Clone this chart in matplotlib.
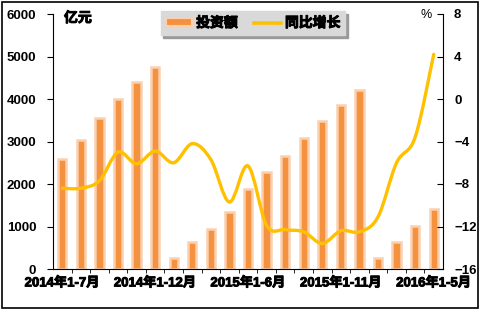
import matplotlib
matplotlib.use('Agg')
import matplotlib.pyplot as plt
import matplotlib.patheffects as pe
import numpy as np
from matplotlib.path import Path
from matplotlib.patches import PathPatch, Rectangle
from matplotlib.lines import Line2D

plt.rcParams['font.family'] = ['Liberation Sans', 'Noto Sans CJK SC']
plt.rcParams['font.weight'] = 'bold'

months = ['2014年1-7月', '2014年1-8月', '2014年1-9月', '2014年1-10月', '2014年1-11月',
          '2014年1-12月', '2015年1-2月', '2015年1-3月', '2015年1-4月', '2015年1-5月',
          '2015年1-6月', '2015年1-7月', '2015年1-8月', '2015年1-9月', '2015年1-10月',
          '2015年1-11月', '2015年1-12月', '2016年1-2月', '2016年1-3月', '2016年1-4月',
          '2016年1-5月']
investment = [2580, 3030, 3560, 4000, 4410, 4760, 260, 630, 950, 1340, 1880,
              2280, 2660, 3080, 3480, 3860, 4220, 260, 640, 1010, 1410]
growth = [-8.4, -8.4, -7.7, -5.0, -6.1, -4.9, -6.0, -4.2, -5.7, -9.7, -6.3,
          -11.9, -12.3, -12.5, -13.6, -12.4, -12.5, -11.1, -6.0, -3.6, 4.2]

bar_face = '#F59240'
bar_edge = '#FAD0AE'
line_col = '#FFC000'
bold_cjk = [pe.withStroke(linewidth=0.7, foreground='black')]

fig = plt.figure(figsize=(4.84, 3.12), dpi=100)
ax = fig.add_axes([53 / 484, 1 - 269 / 312, 390 / 484, 255 / 312])
ax2 = ax.twinx()

x = np.arange(len(months))
ax.bar(x, investment, width=0.44, color=bar_face, edgecolor=bar_edge, linewidth=1.8, zorder=2)
ax.set_xlim(-0.5, len(months) - 0.5)
ax.set_ylim(0, 6000)
ax.set_yticks(range(0, 6001, 1000))
ax.set_xticks(x[::5])
ax.set_xticklabels([months[i] for i in x[::5]], fontsize=9.5)
for t in ax.get_xticklabels():
    t.set_path_effects(bold_cjk)
ax.set_xticks(x[:-1] + 0.5, minor=True)
ax.tick_params(axis='x', which='major', length=0, pad=6)
ax.tick_params(axis='x', which='minor', length=3, direction='out')
ax.tick_params(axis='y', labelsize=9.5, length=4, direction='out', pad=8)

# smoothed line (catmull-rom style bezier through data points)
pts = np.column_stack([x, growth]).astype(float)
verts = [pts[0]]
codes = [Path.MOVETO]
n = len(pts)
for i in range(n - 1):
    p0 = pts[max(i - 1, 0)]
    p1 = pts[i]
    p2 = pts[i + 1]
    p3 = pts[min(i + 2, n - 1)]
    c1 = p1 + (p2 - p0) / 6
    c2 = p2 - (p3 - p1) / 6
    verts += [c1, c2, p2]
    codes += [Path.CURVE4] * 3
ax2.add_patch(PathPatch(Path(verts, codes), facecolor='none', edgecolor=line_col,
                        linewidth=2.4, zorder=3, capstyle='round'))
ax2.set_ylim(-16, 8)
ax2.set_yticks(range(-16, 9, 4))
ax2.tick_params(axis='y', labelsize=9.5, length=4, direction='in', pad=8)

for a in (ax, ax2):
    a.spines['top'].set_visible(False)
    a.patch.set_visible(False)
ax.spines['right'].set_visible(False)
ax2.spines['left'].set_visible(False)
ax2.spines['bottom'].set_visible(False)

fig.text(64 / 484, 1 - 18 / 312, '亿元', fontsize=10, va='center', ha='left',
         path_effects=bold_cjk)
fig.text(432 / 484, 1 - 15 / 312, '%', fontsize=9, va='center', ha='right', fontweight='normal')

handles = [Rectangle((0, 0), 1, 1, facecolor=bar_face, edgecolor=bar_edge, linewidth=1.5),
           Line2D([], [], color=line_col, linewidth=2.6)]
leg = fig.legend(handles, ['投资额', '同比增长'], loc='center', ncol=2,
                 bbox_to_anchor=(253 / 484, 1 - 23 / 312), fontsize=10,
                 frameon=True, fancybox=False, facecolor='#D9D9D9', edgecolor='#D9D9D9',
                 shadow={'color': '#9A9A9A', 'alpha': 1}, handlelength=1.9, handleheight=0.45,
                 columnspacing=1.2, borderpad=0.35, borderaxespad=0, handletextpad=0.3)
leg.get_frame().set_alpha(1)
for t in leg.get_texts():
    t.set_path_effects(bold_cjk)

fig.patches.append(Rectangle((2 / 484, 1 - 308 / 312), 476 / 484, 306 / 312,
                             transform=fig.transFigure, fill=False, edgecolor='black', linewidth=1.2))

fig.savefig('out.png', dpi=100)
